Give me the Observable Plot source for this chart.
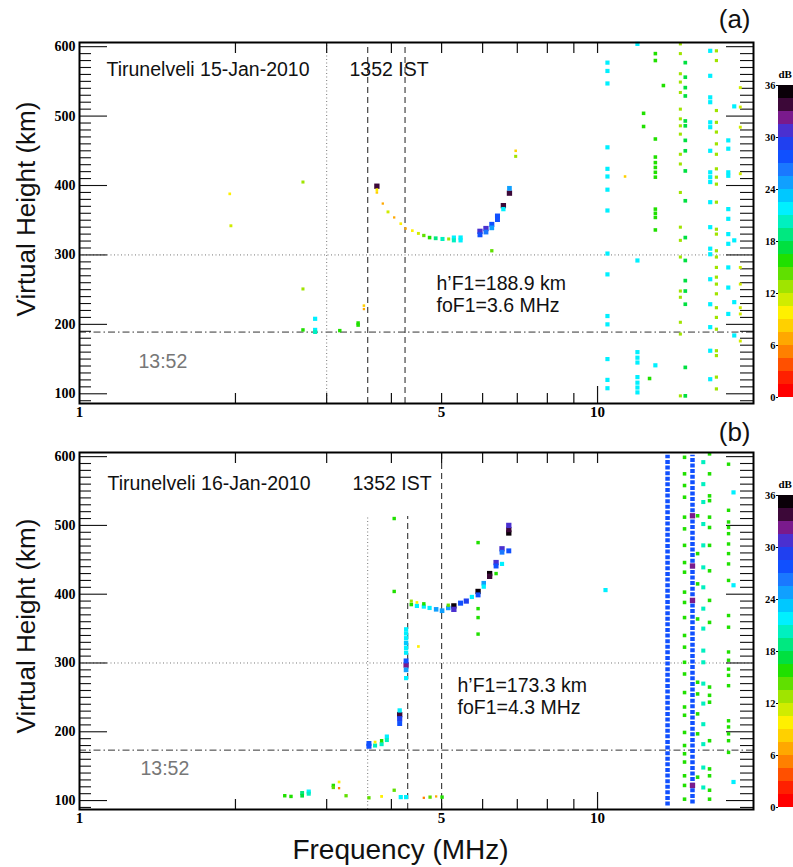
<!DOCTYPE html>
<html><head><meta charset="utf-8">
<script src="https://cdn.jsdelivr.net/npm/d3@7"></script>
<script src="https://cdn.jsdelivr.net/npm/@observablehq/plot@0.6"></script>
<style>
html,body{margin:0;padding:0;background:#fff;}
#wrap{position:relative;width:793px;height:867px;overflow:hidden;background:#fff;}
#wrap > svg{position:absolute;overflow:visible;}
#wrap svg g[aria-label="y-axis tick label"], #wrap svg g[aria-label="x-axis tick label"]{font-family:"Liberation Serif";font-weight:bold;}
</style></head><body><div id="wrap"></div>
<script>
// ---------- scales / ticks ----------
const yMajor = [100, 200, 300, 400, 500, 600];
const yMinor = [90, 110, 120, 130, 140, 150, 160, 170, 180, 190, 210, 220, 230, 240, 250, 260, 270, 280, 290,
  310, 320, 330, 340, 350, 360, 370, 380, 390, 410, 420, 430, 440, 450, 460, 470, 480, 490,
  510, 520, 530, 540, 550, 560, 570, 580, 590];
const xTickLabels = [1, 5, 10];
const xMinorTicks = [2, 3, 4, 5, 6, 7, 8, 9];
const cbTicks = [0, 6, 12, 18, 24, 30, 36];
const dbThresholds = [1.5,3,4.5,6,7.5,9,10.5,12,13.5,15,16.5,18,19.5,21,22.5,24,25.5,27,28.5,30,31.5,33,34.5];
const dbColors = ["#ff0000","#ff2000","#ff5000","#ff8000","#ffa800","#ffd000","#fff000","#d0ec00",
  "#a0e400","#60e000","#20e000","#00e040","#00e880","#00f0c0","#00f0ff","#00c8ff",
  "#10a0ff","#1a78ff","#1050ff","#2040f0","#4a30d0","#7a1a8c","#3c0838","#0a0008"];

// ---------- panel (a): 15-Jan-2010 ----------
const hF1A = 188.9;
const echoesA = [
  [1.95,388,9],[1.96,342,11],[2.70,405,12],[2.70,251,12],[2.70,192,15],[2.85,208,21],[2.85,192,21],[2.85,189,20],
  [3.18,191,15],[3.45,202,15],[3.45,199,16],[3.54,227,8],[3.54,222,6],[3.75,399,33],[3.75,394,9],[3.75,390,8],
  [3.85,374,6],[3.94,362,11],[4.05,354,6],[4.17,345,9],[4.26,338,7],[4.39,335,9],[4.51,331,11],[4.62,328,14],
  [4.74,325,16],[4.87,324,18],[5.02,323,20],[5.16,323,12],[5.28,325,21],[5.28,321,20],[5.44,325,22],[5.44,321,21],
  [5.93,334,31],[5.93,329,27],[6.09,338,30],[6.09,333,26],[6.25,344,28],[6.25,339,25],[6.41,356,28],[6.41,351,27],
  [6.58,371,34],[6.58,366,22],[6.76,396,25],[6.76,389,33],[6.95,450,8],[6.95,442,12],[6.25,306,14],[11.3,413,8]
];
const noiseColsA = [
  {f:10.45, db:21, h:[577,565,547,455,424,413,394,364,302,272,212,200,150,120,108]},
  {f:11.94, db:21, h:[604,292,160,152,145,124,116,109,102]},
  {f:12.27, db:16, h:[504,485]},
  {f:12.93, db:16, h:[590,580,467,441,433,426,419,412,366,360,354,336]},
  {f:12.93, db:21, h:[141]},
  {f:12.6, db:16, h:[122]},
  {f:13.4, db:16, h:[544]},
  {f:14.45, db:12, h:[604,590,561,549,534,510,496,486,474,445,431,390,340,321,297,248,239,203,186,97]},
  {f:14.77, db:17, h:[577,556,541,529,493,486,465,450,421,378,325,292,263,248,229,138,97]},
  {f:16.5, db:21, h:[594,558,527,520,491,484,450,419,412,405,376,340,309,301,265,229,196,162,121]},
  {f:16.96, db:13, h:[594,580,508,491,477,460,445,424,412,402,376,337,330,306,297,282,268,258,244,224,210,193,162,155,124,107]},
  {f:17.88, db:21, h:[465,453,419,414,366,352,330,316,282,253,215]},
  {f:18.36, db:21, h:[514,321,232,184]},
  {f:18.86, db:11, h:[541,513,484,417,282,258,224,215,176]}
];
const dottedA = [{f:3.0}];
const dashedA = [{f:3.6}, {f:4.25}];

// ---------- panel (b): 16-Jan-2010 ----------
const hF1B = 173.3;
const echoesB = [
  [2.49,107,15],[2.56,106,15],[2.69,107,17],[2.69,111,19],[2.77,110,20],[2.77,113,21],[3.09,119,14],[3.09,122,15],
  [3.17,127,9],[3.17,118,5],[3.27,107,14],[3.62,104,14],[3.83,106,10],[4.05,115,14],[4.05,510,15],[4.05,404,15],
  [3.62,183,27],[3.62,179,28],[3.72,185,10],[3.72,180,20],[3.83,187,15],[3.83,182,20],[3.92,193,21],[3.92,188,20],
  [4.15,231,22],[4.15,225,33],[4.15,219,29],[4.15,212,27],
  [4.27,349,21],[4.27,343,22],[4.27,336,22],[4.27,329,23],[4.27,322,22],[4.27,315,22],[4.27,303,27],[4.27,297,32],[4.27,290,25],[4.27,278,21],
  [4.37,390,12],[4.37,385,16],[4.48,388,9],[4.48,383,21],[4.62,386,15],[4.62,382,21],[4.74,380,21],[4.88,378,24],
  [5.01,376,25],[5.15,380,24],[5.15,384,14],[5.28,383,35],[5.28,378,31],[5.44,387,28],[5.58,390,29],[5.72,396,21],
  [5.88,404,36],[5.88,399,27],[6.03,416,24],[6.03,411,22],[6.19,430,35],[6.19,426,34],[6.37,446,30],[6.37,441,27],
  [6.37,430,15],[6.54,466,30],[6.54,461,26],[6.54,444,21],[6.74,500,31],[6.74,494,34],[6.74,489,35],[6.74,463,27],
  [5.88,475,15],[5.88,379,15],[5.88,366,15],[5.88,342,15],[4.51,324,9],
  [4.17,105,21],[4.27,105,21],[4.62,104,5],[4.75,105,14],[4.88,106,6],[5.01,105,15],[10.36,406,21]
];
const blueColsB = [{f:13.65, lo:92, hi:602, db:28}, {f:15.25, lo:95, hi:602, db:28}];
const noiseColsB = [
  {f:15.25, db:32, h:[514,441,391,122]},
  {f:14.72, db:16, h:[599,575,558,541,512,495,471,446,432,403,388,366,340,323,301,284,257,236,224,199,180,168,156,136,122,102]},
  {f:15.6, db:16, h:[514,459,415,364,272,255,226,197,134]},
  {f:16.0, db:20, h:[592,560,534,502,471,439,410,379,350,318,301,270,241,211,182,148,119]},
  {f:16.45, db:16, h:[604,575,543,536,512,497,471,434,391,359,265,253,243,187,146,136,115,102]},
  {f:17.9, db:15, h:[589,522,505,497,488,473,459,444,420,369,352,316,304,291,282,267,216,207,197,187,170]},
  {f:18.3, db:21, h:[548,413,127]}
];
const dottedB = [{f:3.6, top:513}];
const dashedB = [{f:4.3, top:513}, {f:5.0, top:606}];

// ---------- helpers ----------
const flat = cols => cols.flatMap(c => c.h.map(h => [c.f, h, c.db]));
const serif = {fontFamily: "Liberation Serif", fontWeight: "bold"};
const sans = "Liberation Sans";
const W = 793, ML = 79, MR = 40, FW = W - ML - MR;
const XDOM = [1, 20];

// inward tick segments, as tick records in scale units (lengths given in pixels)
function tickRecords(o) {
  const FH = o.height - o.mt - o.mb;
  const lx = Math.log10(XDOM[1] / XDOM[0]);
  const xIn = px => XDOM[0] * 10 ** (lx * px / FW);
  const xInR = px => XDOM[1] / 10 ** (lx * px / FW);
  const kpp = (o.ydom[1] - o.ydom[0]) / FH;
  const hTicks = [
    ...yMajor.map(v => ({v, a: XDOM[0], b: xIn(28)})),
    ...yMinor.map(v => ({v, a: XDOM[0], b: xIn(12)})),
    ...yMajor.map(v => ({v, a: xInR(27), b: XDOM[1]})),
    ...yMinor.map(v => ({v, a: xInR(13), b: XDOM[1]}))
  ];
  const vTicks = [
    ...xMinorTicks.map(v => ({v, a: o.ydom[0], b: o.ydom[0] + 10 * kpp})),
    {v: 10, a: o.ydom[0], b: o.ydom[0] + 17 * kpp},
    ...[...xMinorTicks, 10].map(v => ({v, a: o.ydom[1] - 11 * kpp, b: o.ydom[1]}))
  ];
  return {hTicks, vTicks};
}

function panel(o) {
  const {hTicks, vTicks} = tickRecords(o);
  const txt = (s, dx, dy, extra = {}) => Plot.text([s], {frameAnchor: "top-left", dx, dy, textAnchor: "start", lineAnchor: "middle", fontSize: 19.5, fontFamily: sans, fill: "#111", ...extra});
  const marks = [
    Plot.ruleY([300], {stroke: "#777", strokeDasharray: "1,2.5", strokeWidth: 1}),
    Plot.ruleY([o.hF1], {stroke: "#333", strokeDasharray: "7,3,1.5,3", strokeWidth: 1}),
    Plot.ruleX(o.dotted, {x: "f", y1: () => o.ydom[0], y2: d => d.top ?? o.ydom[1], stroke: "#777", strokeDasharray: "1,2.5", strokeWidth: 1}),
    Plot.ruleX(o.dashed, {x: "f", y1: () => o.ydom[0], y2: d => d.top ?? o.ydom[1], stroke: "#444", strokeDasharray: "6,4", strokeWidth: 1.2}),
    Plot.ruleX(vTicks, {x: "v", y1: "a", y2: "b", stroke: "#111", strokeWidth: 1.2}),
    Plot.ruleY(hTicks, {y: "v", x1: "a", x2: "b", stroke: "#111", strokeWidth: 1.1})
  ];
  if (o.blueCols) marks.push(Plot.ruleX(o.blueCols, {x: "f", y1: "lo", y2: "hi", stroke: "db", strokeWidth: 4.5, strokeDasharray: "4,1.6"}));
  marks.push(
    Plot.dot(flat(o.noise), {x: d => d[0], y: d => d[1], fill: d => d[2], r: d => d[2], symbol: "square"}),
    Plot.dot(o.echoes, {x: d => d[0], y: d => d[1], fill: d => d[2], r: d => d[2], symbol: "square"}),
    Plot.axisY({anchor: "left", ticks: yMajor, tickSize: 0, tickPadding: 4, label: null, fontSize: 14, ...serif}),
    Plot.axisX({anchor: "bottom", ticks: xTickLabels, tickSize: 0, tickPadding: 3, tickFormat: d => String(d), label: null, fontSize: 15, ...serif}),
    Plot.frame({stroke: "#000", strokeWidth: 2}),
    txt(o.title, o.titleDx, o.titleDy),
    txt("1352 IST", o.istDx, o.titleDy),
    txt("13:52", o.timeDx, o.timeDy, {fill: "#777"}),
    txt(o.hText, o.hDx, o.hDy),
    txt(o.fText, o.hDx, o.hDy + 22.5),
    Plot.text([o.tag], {frameAnchor: "top-right", dx: -3, dy: o.tagDy, textAnchor: "end", lineAnchor: "middle", fontSize: 26, fontFamily: sans, fill: "#111"}),
    Plot.text(["Virtual Height (km)"], {frameAnchor: "left", dx: -53, dy: o.ylabDy, rotate: -90, textAnchor: "middle", lineAnchor: "middle", fontSize: 26, fontFamily: sans, fill: "#111"})
  );
  if (o.xlabel) marks.push(Plot.text(["Frequency (MHz)"], {frameAnchor: "bottom", dx: -16, dy: 41, textAnchor: "middle", lineAnchor: "middle", fontSize: 28, fontFamily: sans, fill: "#111"}));
  const svg = Plot.plot({
    width: W, height: o.height, marginLeft: ML, marginRight: MR, marginTop: o.mt, marginBottom: o.mb,
    style: {background: "transparent", overflow: "visible", fontFamily: sans},
    x: {type: "log", domain: XDOM, label: null},
    y: {domain: o.ydom, label: null},
    color: {type: "threshold", domain: dbThresholds, range: dbColors},
    r: {type: "linear", domain: [6, 30], range: [1.3, 3.0], clamp: true},
    marks
  });
  svg.style.left = "0px"; svg.style.top = o.top + "px";
  return svg;
}

function colorbar(top) {
  const svg = Plot.plot({
    width: 40, height: 350, marginLeft: 25, marginRight: 0, marginTop: 25, marginBottom: 13,
    style: {background: "transparent", overflow: "visible"},
    y: {domain: [0, 36], label: null},
    color: {type: "threshold", domain: dbThresholds, range: dbColors},
    marks: [
      Plot.rect(d3.range(0, 36, 1.5), {y1: d => d, y2: d => d + 1.5, fill: d => d + 0.75}),
      Plot.axisY({ticks: cbTicks, tickSize: 2, tickPadding: 1, label: null, fontSize: 10.5, ...serif}),
      Plot.text(["dB"], {frameAnchor: "top-left", dy: -11, textAnchor: "start", lineAnchor: "middle", fontSize: 11, ...serif})
    ]
  });
  svg.style.left = "753px"; svg.style.top = top + "px";
  return svg;
}

const wrap = document.getElementById("wrap");
wrap.append(panel({
  top: 0, height: 420, mt: 42, mb: 17, ydom: [86, 606], hF1: hF1A,
  echoes: echoesA, noise: noiseColsA, dotted: dottedA, dashed: dashedA,
  title: "Tirunelveli 15-Jan-2010", titleDx: 27, titleDy: 27, istDx: 270,
  timeDx: 59, timeDy: 319, hText: "h’F1=188.9 km", fText: "foF1=3.6 MHz", hDx: 357, hDy: 241,
  tag: "(a)", tagDy: -23, ylabDy: -14
}));
wrap.append(panel({
  top: 420, height: 447, mt: 32, mb: 58, ydom: [87, 606], hF1: hF1B,
  echoes: echoesB, noise: noiseColsB, blueCols: blueColsB, dotted: dottedB, dashed: dashedB,
  title: "Tirunelveli 16-Jan-2010", titleDx: 28, titleDy: 31, istDx: 273,
  timeDx: 61, timeDy: 316, hText: "h’F1=173.3 km", fText: "foF1=4.3 MHz", hDx: 378, hDy: 233,
  tag: "(b)", tagDy: -20, ylabDy: -5, xlabel: true
}));
wrap.append(colorbar(60));
wrap.append(colorbar(470));
</script></body></html>
